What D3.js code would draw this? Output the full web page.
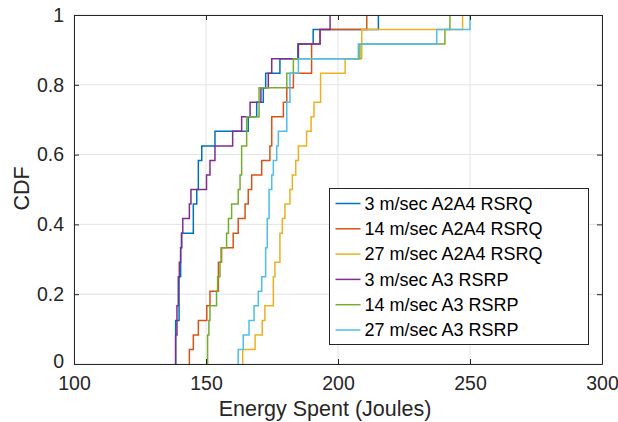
<!DOCTYPE html>
<html lang="en">
<head>
<meta charset="UTF-8">
<title>CDF of energy spent</title>
<script src="https://cdn.jsdelivr.net/npm/d3@7/dist/d3.min.js"></script>
<style>
  body { margin: 0; background: #fff; }
  svg { display: block; font-family: "Liberation Sans", Arial, sans-serif; }
</style>
</head>
<body>
<script>
// sorted samples (Joules) for each run, 24 samples each
const seriesNames = [
  "3 m/sec A2A4 RSRQ", "14 m/sec A2A4 RSRQ", "27 m/sec A2A4 RSRQ",
  "3 m/sec A3 RSRP", "14 m/sec A3 RSRP", "27 m/sec A3 RSRP"
];
const colors = ["#0072BD", "#D95319", "#EDB120", "#7E2F8E", "#77AC30", "#4DBEEE"];

const a2a4_3 = [138.5, 138.5, 138.5, 139.8, 139.8, 139.8, 140.4, 140.4, 140.7, 145.2, 145.2, 146.5,
                147.1, 147.1, 148.4, 153.4, 166.0, 169.2, 171.7, 172.6, 178.0, 184.8, 190.6, 215.3];
const a2a4_14 = [143.7, 145.2, 147.1, 150.3, 151.5, 154.7, 154.7, 155.9, 160.3, 162.2, 164.8, 166.0,
                 167.3, 171.1, 174.2, 174.9, 174.9, 179.3, 180.6, 183.1, 190.0, 190.0, 193.2, 210.9];
const a2a4_27 = [163.9, 168.6, 171.3, 172.3, 175.5, 175.5, 176.1, 178.0, 178.0, 178.9, 179.9, 181.8,
                 182.7, 184.0, 185.0, 188.1, 189.8, 190.9, 193.4, 193.4, 202.7, 209.0, 209.0, 247.2];
const a3_3 = [138.5, 138.5, 139.0, 139.0, 139.5, 139.5, 139.9, 140.4, 140.8, 141.2, 143.7, 144.3,
              150.2, 151.5, 153.4, 160.1, 163.5, 166.7, 170.8, 173.6, 174.9, 185.0, 193.2, 197.0];
const a3_14 = [150.6, 150.6, 151.1, 151.5, 154.0, 154.4, 155.3, 155.7, 157.8, 158.5, 159.7, 162.2,
               162.9, 163.5, 163.5, 165.4, 165.4, 170.1, 170.1, 180.6, 183.1, 208.3, 240.5, 242.4];
const a3_27 = [162.2, 164.1, 166.3, 168.2, 169.8, 171.1, 172.6, 172.6, 173.2, 173.2, 173.9, 173.9,
               174.9, 175.5, 176.8, 177.4, 180.6, 180.6, 181.8, 181.8, 185.0, 207.7, 237.4, 250.0];
const samples = [a2a4_3, a2a4_14, a2a4_27, a3_3, a3_14, a3_27];

const xTicks = [100, 150, 200, 250, 300];
const yTicks = [0, 0.2, 0.4, 0.6, 0.8, 1];

const W = 618, H = 422;
const pL = 74, pR = 602, pT = 15, pB = 364;

const svg = d3.select("body").append("svg")
    .attr("width", W)
    .attr("height", H);

const x = d3.scaleLinear().domain([100, 300]).range([pL, pR]);
const y = d3.scaleLinear().domain([0, 1]).range([pB, pT]);

// grid
const grid = svg.append("g");
grid.selectAll(".gx").data(xTicks).enter().append("line")
    .attr("x1", d => x(d)).attr("x2", d => x(d))
    .attr("y1", pT).attr("y2", pB)
    .attr("stroke", "#e3e3e3").attr("stroke-width", 1);
grid.selectAll(".gy").data(yTicks).enter().append("line")
    .attr("x1", pL).attr("x2", pR)
    .attr("y1", d => y(d)).attr("y2", d => y(d))
    .attr("stroke", "#e3e3e3").attr("stroke-width", 1);

svg.append("clipPath").attr("id", "clip")
  .append("rect")
    .attr("x", pL).attr("y", pT - 1)
    .attr("width", pR - pL).attr("height", pB - pT + 2);

// empirical cdf stairs
const line = d3.line()
    .x(d => x(d[0]))
    .y(d => y(d[1]))
    .curve(d3.curveStepAfter);

samples.forEach((s, k) => {
  const n = s.length;
  const pts = [[s[0], 0]].concat(s.map((v, i) => [v, (i + 1) / n]));
  svg.append("path")
      .attr("clip-path", "url(#clip)")
      .attr("d", line(pts))
      .attr("fill", "none")
      .attr("stroke", colors[k])
      .attr("stroke-width", 1.5);
});

// axes, MATLAB style box with inward ticks
const axisColor = "#262626";
const xAxis = svg.append("g")
    .attr("transform", `translate(0,${pB})`)
    .call(d3.axisBottom(x).tickValues(xTicks).tickSizeInner(-5).tickSizeOuter(0).tickPadding(12));
const xAxisTop = svg.append("g")
    .attr("transform", `translate(0,${pT})`)
    .call(d3.axisTop(x).tickValues(xTicks).tickSizeInner(-5).tickSizeOuter(0).tickFormat(""));
const yAxis = svg.append("g")
    .attr("transform", `translate(${pL},0)`)
    .call(d3.axisLeft(y).tickValues(yTicks).tickSizeInner(-5).tickSizeOuter(0).tickPadding(10)
      .tickFormat(d => d === 0 || d === 1 ? d3.format("d")(d) : d3.format(".1f")(d)));
const yAxisRight = svg.append("g")
    .attr("transform", `translate(${pR},0)`)
    .call(d3.axisRight(y).tickValues(yTicks).tickSizeInner(-5).tickSizeOuter(0).tickFormat(""));

[xAxis, xAxisTop, yAxis, yAxisRight].forEach(a => {
  a.select(".domain").attr("stroke", axisColor).attr("stroke-width", 1);
  a.selectAll(".tick line").attr("stroke", axisColor);
  a.selectAll(".tick text")
      .attr("fill", axisColor)
      .style("font-size", "19.5px")
      .style("font-family", '"Liberation Sans", Arial, sans-serif');
});
// lift the bottom y label a touch so it clears the first x label
yAxis.selectAll(".tick text").filter(d => d === 0).attr("dy", "0.2em");

svg.append("text")
    .attr("x", 325)
    .attr("y", 416)
    .attr("text-anchor", "middle")
    .attr("fill", axisColor)
    .style("font-size", "21.5px")
    .text("Energy Spent (Joules)");

svg.append("text")
    .attr("transform", `translate(28.5,${(pT + pB) / 2 - 1}) rotate(-90)`)
    .attr("text-anchor", "middle")
    .attr("fill", axisColor)
    .style("font-size", "21.5px")
    .text("CDF");

// legend
const lg = svg.append("g").attr("transform", "translate(329.5,188.5)");
lg.append("rect")
    .attr("width", 259).attr("height", 156)
    .attr("fill", "#fff")
    .attr("stroke", axisColor).attr("stroke-width", 1);
seriesNames.forEach((name, i) => {
  const cy = 15 + i * 25.3;
  lg.append("line")
      .attr("x1", 6).attr("x2", 31)
      .attr("y1", cy).attr("y2", cy)
      .attr("stroke", colors[i]).attr("stroke-width", 1.5);
  lg.append("text")
      .attr("x", 35).attr("y", cy)
      .attr("dy", "0.35em")
      .attr("fill", "#000")
      .style("font-size", "18px")
      .text(name);
});
</script>
</body>
</html>
